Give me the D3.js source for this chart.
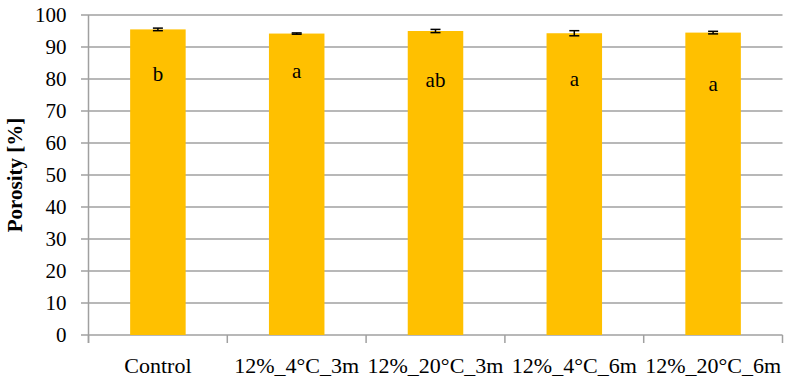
<!DOCTYPE html>
<html><head><meta charset="utf-8">
<script src="https://cdn.jsdelivr.net/npm/d3@7"></script>
<style>body{margin:0;background:#fff}svg{display:block}</style>
</head><body>
<script>
const categories = ["Control","12%_4°C_3m","12%_20°C_3m","12%_4°C_6m","12%_20°C_6m"];
const values = [95.5, 94.2, 95.0, 94.3, 94.5];
const errors = [0.4, 0.2, 0.5, 0.8, 0.4];
const letters = ["b","a","ab","a","a"];
const letterValues = [79.4, 80.3, 77.5, 77.8, 76.3];
const yTicks = [0,10,20,30,40,50,60,70,80,90,100];

const W=789,H=386;
const L=88.5,R=782.5,T=15,B=335;
const font="'Liberation Serif', 'Times New Roman', serif";
const svg=d3.select("body").append("svg").attr("width",W).attr("height",H);
const x=d3.scaleBand().domain(categories).range([L,R]).paddingInner(0.6).paddingOuter(0.3);
const y=d3.scaleLinear().domain([0,100]).range([B,T]);

// gridlines
svg.append("g").selectAll("line").data(yTicks).join("line")
  .attr("x1",81).attr("x2",R).attr("y1",d=>y(d)).attr("y2",d=>y(d))
  .attr("stroke","#a0a0a0").attr("stroke-width",1.5);

// y axis
const ya=svg.append("g").attr("transform",`translate(${L},0)`)
  .call(d3.axisLeft(y).tickValues(yTicks).tickSize(0).tickPadding(22));
ya.select(".domain").remove();
ya.selectAll("text").attr("font-family",font).attr("font-size",21).attr("fill","#000");

// vertical axis line
svg.append("line").attr("x1",L).attr("x2",L).attr("y1",T).attr("y2",343)
  .attr("stroke","#a0a0a0").attr("stroke-width",1.5);

// bars
svg.append("g").selectAll("rect").data(values).join("rect")
  .attr("x",(d,i)=>x(categories[i])).attr("width",x.bandwidth())
  .attr("y",d=>y(d)).attr("height",d=>B-y(d)).attr("fill","#FFC000");

// category ticks between bands
const bounds=d3.range(categories.length+1).map(i=>L+i*(R-L)/categories.length);
svg.append("g").selectAll("line").data(bounds).join("line")
  .attr("x1",d=>d).attr("x2",d=>d).attr("y1",B).attr("y2",343)
  .attr("stroke","#a0a0a0").attr("stroke-width",1.5);

// x labels
svg.append("g").selectAll("text").data(categories).join("text")
  .attr("x",d=>x(d)+x.bandwidth()/2).attr("y",373)
  .attr("text-anchor","middle").attr("font-family",font).attr("font-size",22)
  .text(d=>d);

// error bars
const eb=svg.append("g").attr("stroke","#000").attr("stroke-width",1.5);
values.forEach((v,i)=>{
  const cx=x(categories[i])+x.bandwidth()/2;
  eb.append("line").attr("x1",cx).attr("x2",cx).attr("y1",y(v+errors[i])).attr("y2",y(v-errors[i]));
  [v+errors[i],v-errors[i]].forEach(e=>eb.append("line").attr("x1",cx-5).attr("x2",cx+5).attr("y1",y(e)).attr("y2",y(e)));
});

// letters
svg.append("g").selectAll("text").data(letters).join("text")
  .attr("x",(d,i)=>x(categories[i])+x.bandwidth()/2).attr("y",(d,i)=>y(letterValues[i]))
  .attr("text-anchor","middle").attr("font-family",font).attr("font-size",21).text(d=>d);

// y title
svg.append("text").attr("transform","translate(22,175) rotate(-90)")
  .attr("text-anchor","middle").attr("font-family",font).attr("font-weight","bold")
  .attr("font-size",21).text("Porosity [%]");
</script>
</body></html>
